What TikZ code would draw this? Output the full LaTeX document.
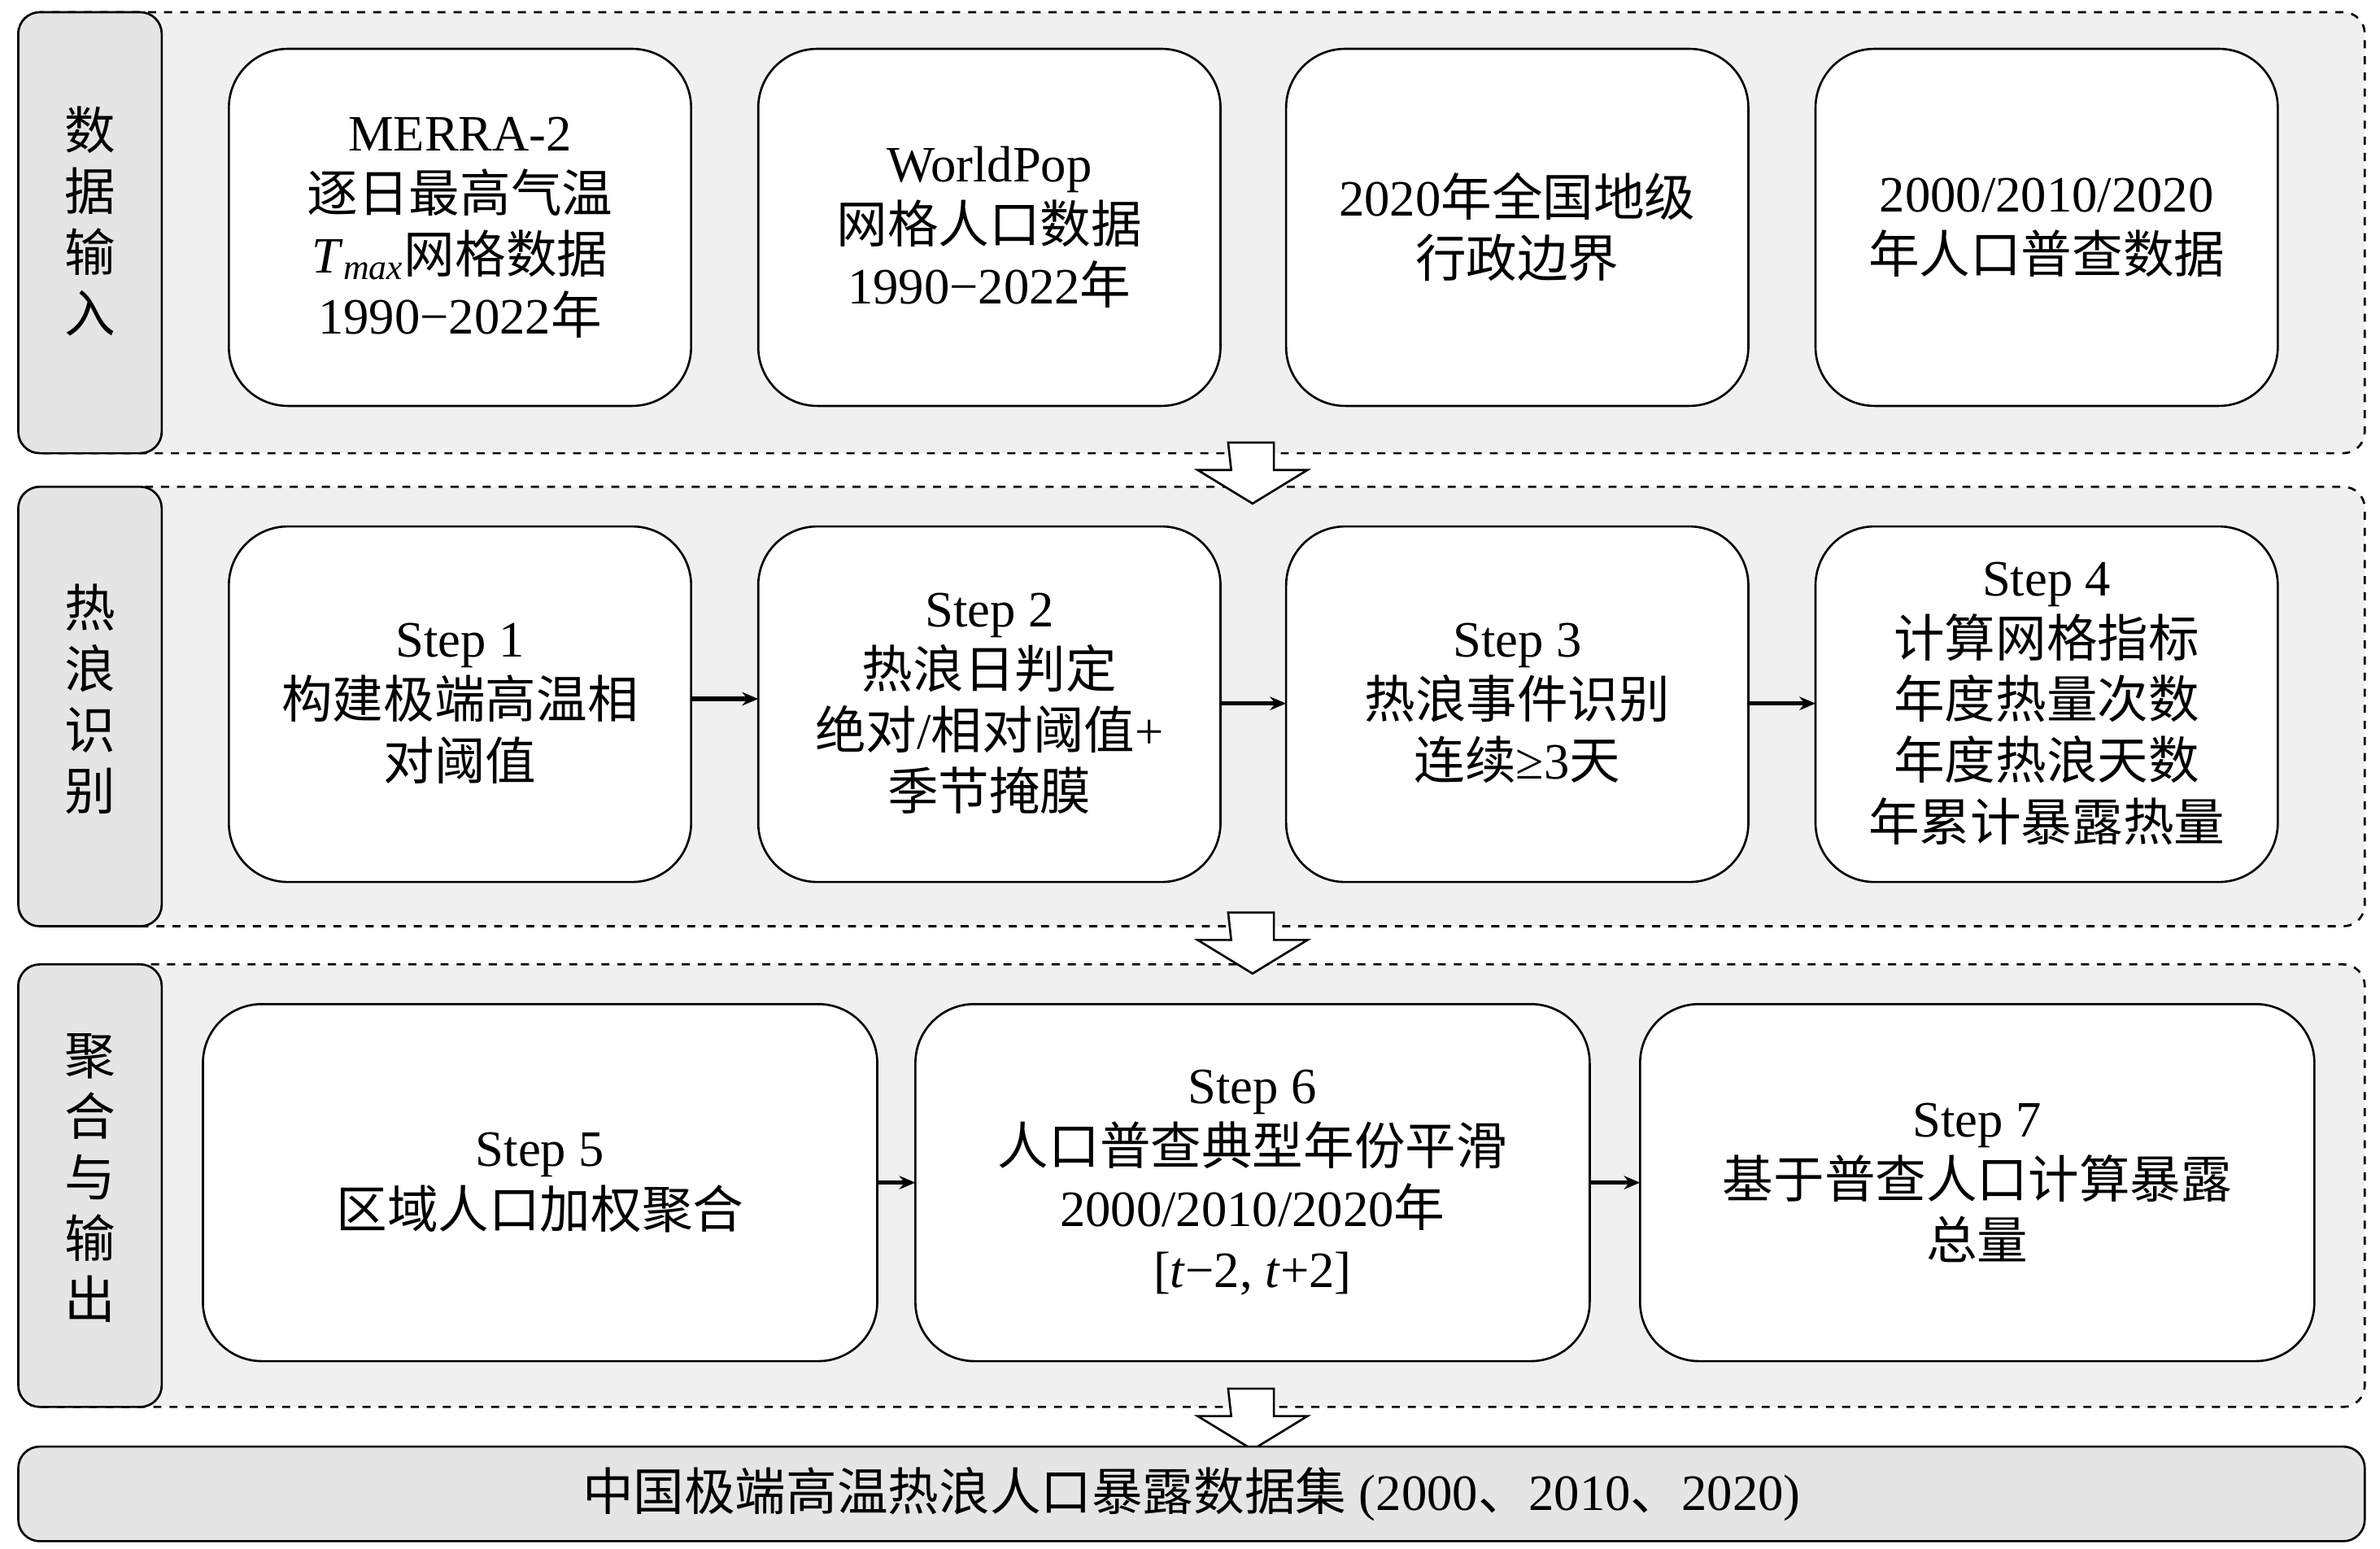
\documentclass[tikz,border=0pt]{standalone}
\usepackage{fontspec}
\usetikzlibrary{arrows.meta}
\setmainfont{Liberation Serif}
\newfontfamily\cjk{Noto Sans CJK SC}
\newcommand\en[1]{{\rmfamily #1}}
\newcommand\stp[1]{{\rmfamily Step #1}}
\begin{document}
\begin{tikzpicture}[x=0.02cm,y=-0.02cm,
 panel/.style={draw,dashed,rounded corners=8pt,fill=black!6,line width=0.8pt},
 lab/.style={draw,rounded corners=8pt,fill=black!10,line width=0.8pt},
 box/.style={draw,rounded corners=22pt,fill=white,line width=0.8pt},
 txt/.style={align=center,font=\cjk\fontsize{19}{22.8}\selectfont},
 hol/.style={draw,fill=white,line width=0.8pt},
 arr/.style={-{Stealth[length=6pt,width=5pt]},line width=1.6pt}]
\useasboundingbox (0,0) rectangle (1560,1015);
% panels
\foreach \t/\b/\n in {8/297/p1,319/607/p2,632/922/p3}{
 \draw[panel] (12,\t) rectangle (1550,\b);
 \draw[lab] (12,\t) rectangle (106,\b);
}
\node[txt] (l1) at (59,145) {数\\据\\输\\入};
\node[txt] (l2) at (59,458) {热\\浪\\识\\别};
\node[txt] (l3) at (59,772) {聚\\合\\与\\输\\出};
% row 1
\foreach \a/\n in {150/a1,497/a2,843/a3,1190/a4}{
 \draw[box] (\a,32) rectangle (\a+303,266);
 \coordinate (\n) at (\a+151.5,149);
}
\node[txt] (t1) at (a1) {\en{MERRA-2}\\逐日最高气温\\\en{\textit{T}\textsubscript{\textit{max}}}网格数据\\\en{1990−2022}年};
\node[txt] (t2) at (a2) {\en{WorldPop}\\网格人口数据\\\en{1990−2022}年};
\node[txt] (t3) at (a3) {\en{2020}年全国地级\\行政边界};
\node[txt] (t4) at (a4) {\en{2000/2010/2020}\\年人口普查数据};
% row 2
\foreach \a/\n in {150/b1,497/b2,843/b3,1190/b4}{
 \draw[box] (\a,345) rectangle (\a+303,578);
 \coordinate (\n) at (\a+151.5,461);
}
\node[txt] (s1) at (b1) {\stp{1}\\构建极端高温相\\对阈值};
\node[txt] (s2) at (b2) {\stp{2}\\热浪日判定\\绝对\en{/}相对阈值\en{+}\\季节掩膜};
\node[txt] (s3) at (b3) {\stp{3}\\热浪事件识别\\连续\en{≥3}天};
\node[txt] (s4) at (b4) {\stp{4}\\计算网格指标\\年度热量次数\\年度热浪天数\\年累计暴露热量};
\coordinate (e1) at (453,458); \coordinate (f1) at (497,458);
\coordinate (e2) at (800,461); \coordinate (f2) at (843,461);
\coordinate (e3) at (1146,461); \coordinate (f3) at (1190,461);
\draw[arr] (e1) -- (f1); \draw[arr] (e2) -- (f2); \draw[arr] (e3) -- (f3);
% row 3
\draw[box] (133,658) rectangle (575,892); \coordinate (c1) at (354,775);
\draw[box] (600,658) rectangle (1042,892); \coordinate (c2) at (821,775);
\draw[box] (1075,658) rectangle (1517,892); \coordinate (c3) at (1296,775);
\node[txt] (s5) at (c1) {\stp{5}\\区域人口加权聚合};
\node[txt] (s6) at (c2) {\stp{6}\\人口普查典型年份平滑\\\en{2000/2010/2020}年\\\en{[\textit{t}−2, \textit{t}+2]}};
\node[txt] (s7) at (c3) {\stp{7}\\基于普查人口计算暴露\\总量};
\coordinate (e4) at (575,775); \coordinate (f4) at (600,775);
\coordinate (e5) at (1042,775); \coordinate (f5) at (1075,775);
\draw[arr] (e4) -- (f4); \draw[arr] (e5) -- (f5);
% hollow arrows
\foreach \y in {290,598,910}{
 \draw[hol] (805,\y) -- (835,\y) -- (835,\y+18) -- (857,\y+18) -- (821,\y+40) -- (785,\y+18) -- (807,\y+18) -- cycle;
}
% bottom
\draw[lab] (12,948) rectangle (1550,1010);
\node[txt] (out) at (781,979) {中国极端高温热浪人口暴露数据集\en{ (2000}、\en{2010}、\en{2020)}};
\end{tikzpicture}
\end{document}
